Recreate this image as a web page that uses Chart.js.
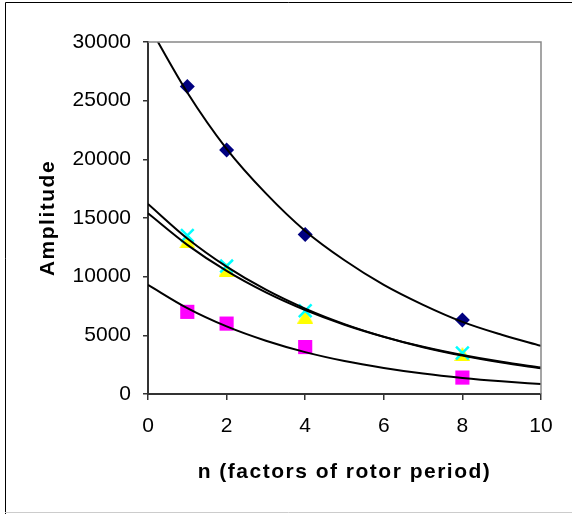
<!DOCTYPE html>
<html lang="en">
<head>
    <meta charset="UTF-8">
    <title>Amplitude vs n</title>
    <script src="https://cdn.jsdelivr.net/npm/chart.js"></script>
    <style>
        body {
            margin: 0;
            background-color: #fff;
        }
    </style>
</head>
<body>
<canvas id="ampChart" width="572" height="514"></canvas>

<script>
    // measured points (n = factors of rotor period)
    const nValues = [1, 2, 4, 8];
    const diamondAmp = [26200, 20800, 13600, 6300];
    const squareAmp = [7000, 6000, 4000, 1400];
    const triangleAmp = [13000, 10600, 6600, 3400];
    const crossAmp = [13500, 10900, 7100, 3500];

    // trend curves at n = 0..10
    const fitN = [0, 1, 2, 3, 4, 5, 6, 7, 8, 9, 10];
    const diamondFit = [31500, 25700, 20900, 17100, 13900, 11400, 9300, 7600, 6150, 5050, 4100];
    const crossFit = [16200, 13260, 10860, 8890, 7280, 5960, 4880, 3990, 3270, 2680, 2190];
    const triangleFit = [15400, 12710, 10490, 8660, 7150, 5900, 4870, 4020, 3320, 2740, 2260];
    const squareFit = [9300, 7320, 5760, 4540, 3570, 2810, 2220, 1740, 1370, 1080, 850];

    const xTicks = [0, 2, 4, 6, 8, 10];
    const yTicks = [0, 5000, 10000, 15000, 20000, 25000, 30000];

    const toPoints = (xs, ys) => xs.map((x, i) => ({x: x, y: ys[i]}));

    // Excel-style triangle: its bounding box is centred on the value
    function triangleImage(w, h, color) {
        const c = document.createElement('canvas');
        c.width = w;
        c.height = h;
        const g = c.getContext('2d');
        g.fillStyle = color;
        g.beginPath();
        g.moveTo(w / 2, 0);
        g.lineTo(w, h);
        g.lineTo(0, h);
        g.closePath();
        g.fill();
        return c;
    }

    function fitLine(values) {
        return {
            type: 'line',
            data: toPoints(fitN, values),
            borderColor: '#000',
            borderWidth: 2,
            pointRadius: 0,
            cubicInterpolationMode: 'monotone',
            fill: false,
            order: 0
        };
    }

    function markers(values, style, color, radius, order) {
        return {
            type: 'scatter',
            data: toPoints(nValues, values),
            pointStyle: style,
            pointRadius: radius,
            pointHoverRadius: radius,
            backgroundColor: color,
            borderColor: color,
            borderWidth: style === 'crossRot' ? 2.5 : 0,
            order: order
        };
    }

    // outer frame plus grey top/right edges of the plot area
    const framePlugin = {
        id: 'frame',
        afterDraw(chart) {
            const ctx = chart.ctx;
            const a = chart.chartArea;
            ctx.save();
            ctx.strokeStyle = '#888';
            ctx.lineWidth = 1.5;
            ctx.beginPath();
            ctx.moveTo(a.left, a.top);
            ctx.lineTo(a.right, a.top);
            ctx.lineTo(a.right, a.bottom);
            ctx.stroke();

            ctx.strokeStyle = '#000';
            ctx.lineWidth = 1;
            ctx.beginPath();
            ctx.moveTo(5.5, 514);
            ctx.lineTo(5.5, 2.5);
            ctx.lineTo(572, 2.5);
            ctx.stroke();
            ctx.strokeStyle = '#ccc';
            ctx.beginPath();
            ctx.moveTo(5, 512.5);
            ctx.lineTo(572, 512.5);
            ctx.stroke();
            ctx.restore();
        }
    };

    // axis titles in the original are slightly letter-spaced
    const spacedTitles = {
        id: 'spacedTitles',
        beforeDraw(chart) {
            Object.values(chart.scales).forEach(scale => {
                if (scale._spaced) return;
                const orig = scale.drawTitle.bind(scale);
                scale.drawTitle = function () {
                    this.ctx.save();
                    this.ctx.letterSpacing = '1.5px';
                    orig();
                    this.ctx.restore();
                };
                scale._spaced = true;
            });
        }
    };

    const tickFont = {family: 'Liberation Sans, Arial, sans-serif', size: 21};
    const titleFont = {family: 'Liberation Sans, Arial, sans-serif', size: 21, weight: 'bold'};
    const plainNumber = v => String(v);

    const ctx = document.getElementById('ampChart').getContext('2d');
    new Chart(ctx, {
        data: {
            datasets: [
                fitLine(diamondFit),
                fitLine(crossFit),
                fitLine(triangleFit),
                fitLine(squareFit),
                markers(crossAmp, 'crossRot', '#00FFFF', 9, 1),
                markers(triangleAmp, triangleImage(16, 14, '#FFFF00'), '#FFFF00', 8, 2),
                markers(squareAmp, 'rect', '#FF00FF', 10, 3),
                markers(diamondAmp, 'rectRot', '#000080', 7.5, 4)
            ]
        },
        options: {
            responsive: false,
            animation: false,
            layout: {
                padding: {left: 0, right: 31, top: 42, bottom: 29}
            },
            plugins: {
                legend: {display: false},
                tooltip: {enabled: false}
            },
            scales: {
                x: {
                    type: 'linear',
                    min: 0,
                    max: 10,
                    afterBuildTicks: scale => {
                        scale.ticks = xTicks.map(v => ({value: v}));
                    },
                    ticks: {font: tickFont, color: '#000', padding: 14, callback: plainNumber},
                    grid: {drawOnChartArea: false, color: '#333', tickLength: 6, lineWidth: 1.5},
                    border: {color: '#333', width: 2},
                    title: {display: true, text: 'n (factors of rotor period)', font: titleFont, color: '#000', padding: 0},
                    afterFit: scale => {
                        scale.height = 514 - 29 - 394;
                    }
                },
                y: {
                    type: 'linear',
                    min: 0,
                    max: 30000,
                    afterBuildTicks: scale => {
                        scale.ticks = yTicks.map(v => ({value: v}));
                    },
                    ticks: {font: tickFont, color: '#000', padding: 12, callback: plainNumber},
                    grid: {drawOnChartArea: false, color: '#333', tickLength: 5, lineWidth: 1.5},
                    border: {color: '#333', width: 2},
                    title: {display: true, text: 'Amplitude', font: titleFont, color: '#000', padding: {top: 36, bottom: 0}},
                    afterFit: scale => {
                        scale.width = 148;
                    }
                }
            }
        },
        plugins: [framePlugin, spacedTitles]
    });
</script>
</body>
</html>
